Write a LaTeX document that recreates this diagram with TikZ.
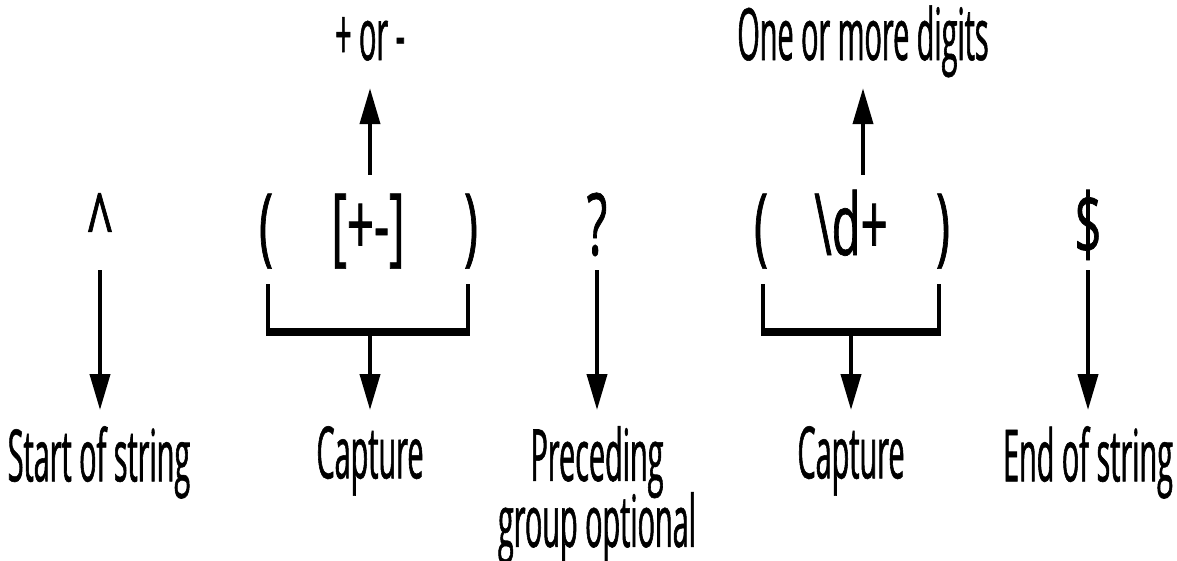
\documentclass[tikz,border=0pt]{standalone}
\usepackage{fontspec}
\setmainfont{Open Sans}
\newfontfamily\lblfont{Open Sans}[FakeStretch=0.4, FakeBold=0.8]
\newfontfamily\rxfont{Open Sans}[FakeStretch=0.55, FakeBold=0.8]
\usetikzlibrary{arrows.meta, positioning}

\begin{document}
\begin{tikzpicture}[x=1pt, y=-1pt,
    lbl/.style={inner sep=0pt, font={\lblfont\fontsize{72}{66}\selectfont\lineskiplimit=-100pt}, align=center},
    rx/.style={inner sep=0pt, anchor=base, text height=62pt, text depth=10pt, font=\rxfont\fontsize{86}{86}\selectfont},
    arr/.style={line width=4pt, -{Triangle[width=20pt, length=36pt]}},
    brace/.style={line width=4pt},
    bar/.style={line width=8pt}
  ]
  \useasboundingbox (0,0) rectangle (1177,560);

  % Regex, one piece at a time
  \node[rx] (caret) at (100,255) {\textasciicircum};
  \node[rx] (lpA) at (266,255) {(};
  \node[rx] (setA) at (368,255) {[+-]};
  \node[rx] (rpA) at (471,255) {)};
  \node[rx] (quest) at (597,255) {?};
  \node[rx] (lpB) at (761,255) {(};
  \node[rx] (digits) at (851,255) {\textbackslash d+};
  \node[rx] (rpB) at (943,255) {)};
  \node[rx] (dollar) at (1088,255) {\$};

  % Labels above
  \node[lbl, anchor=base, text depth=0pt] (pmlbl) at (370,60) {+ or -};
  \node[lbl, anchor=base, text depth=0pt] (dglbl) at (863,60) {One or more digits};

  % Labels below
  \node[lbl, anchor=north] (startlbl) at (99,426) {Start of string};
  \node[lbl, anchor=north] (capAlbl) at (370,426) {Capture};
  \node[lbl, anchor=north] (preclbl) at (597,426) {Preceding\\group optional};
  \node[lbl, anchor=north] (capBlbl) at (851,426) {Capture};
  \node[lbl, anchor=north] (endlbl) at (1088,426) {End of string};

  % Brackets under the two groups
  \draw[brace] (268,284) -- (268,332);
  \draw[brace] (468,284) -- (468,332);
  \draw[bar] (266,332) -- (470,332);
  \coordinate (stemA) at (370,336);
  \draw[brace] (763,284) -- (763,332);
  \draw[brace] (939,284) -- (939,332);
  \draw[bar] (761,332) -- (941,332);
  \coordinate (stemB) at (851,336);

  % Arrows up
  \draw[arr, shorten <=18pt, shorten >=28pt] (setA.north -| pmlbl.south) -- (pmlbl.south);
  \draw[arr, shorten <=18pt, shorten >=28pt] (digits.north -| dglbl.south) -- (dglbl.south);

  % Arrows down
  \draw[arr, shorten <=5pt, shorten >=16pt] (caret.south) -- (caret.south |- startlbl.north);
  \draw[arr, shorten >=16pt] (stemA) -- (stemA |- capAlbl.north);
  \draw[arr, shorten <=5pt, shorten >=16pt] (quest.south) -- (quest.south |- preclbl.north);
  \draw[arr, shorten >=16pt] (stemB) -- (stemB |- capBlbl.north);
  \draw[arr, shorten <=5pt, shorten >=16pt] (dollar.south) -- (dollar.south |- endlbl.north);
\end{tikzpicture}
\end{document}
